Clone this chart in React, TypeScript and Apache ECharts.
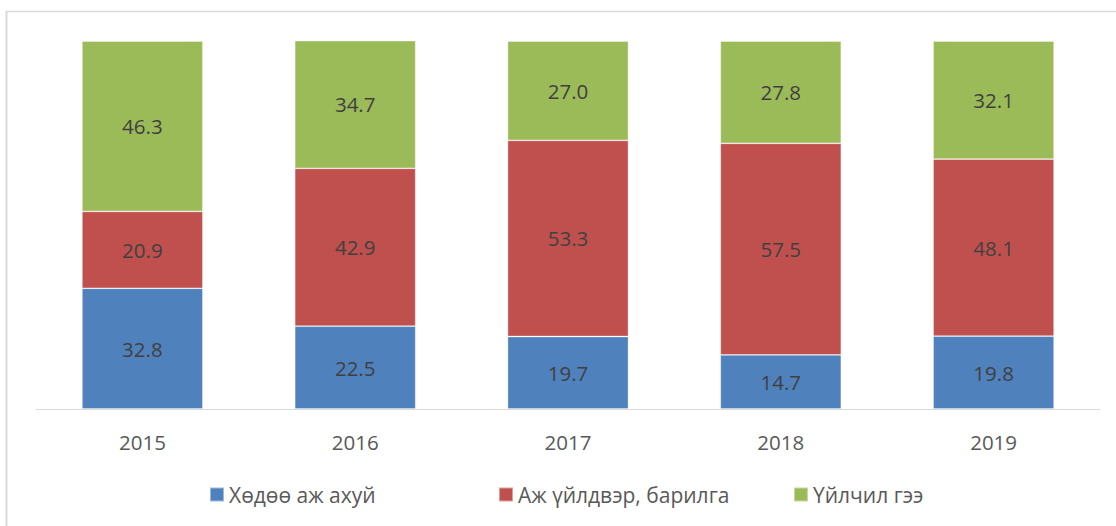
import React, { useEffect, useRef } from "react";
import * as echarts from "echarts";

const years = ["2015", "2016", "2017", "2018", "2019"];
const seriesNames = ["Хөдөө аж ахуй", "Аж үйлдвэр, барилга", "Үйлчил гээ"];
const agriculture = [32.8, 22.5, 19.7, 14.7, 19.8];
const industry = [20.9, 42.9, 53.3, 57.5, 48.1];
const services = [46.3, 34.7, 27.0, 27.8, 32.1];
const colors = ["#4F81BD", "#C0504D", "#9BBB59"];

const FONT = "'Open Sans', 'Noto Sans', sans-serif";

export default function App() {
  const ref = useRef<HTMLDivElement>(null);
  useEffect(() => {
    if (!ref.current) return;
    const chart = echarts.init(ref.current, null, { renderer: "svg" });
    const data = [agriculture, industry, services];
    const legendLefts = [209, 498, 793];
    chart.setOption({
      animation: false,
      backgroundColor: "#ffffff",
      textStyle: { fontFamily: FONT },
      grid: { left: 36, right: 16, top: 41, bottom: 117, containLabel: false },
      xAxis: {
        type: "category",
        data: years,
        axisLine: { lineStyle: { color: "#d9d9d9", width: 1 } },
        axisTick: { show: false },
        axisLabel: { color: "#595959", fontSize: 20.5, margin: 22, fontFamily: FONT },
      },
      yAxis: {
        type: "value",
        min: 0,
        max: 100,
        show: false,
        splitLine: { show: false },
      },
      legend: legendLefts.map((l, i) => ({
        data: [seriesNames[i]],
        left: l,
        top: 484,
        icon: "rect",
        itemWidth: 14,
        itemHeight: 14,
        itemGap: 6,
        textStyle: { color: "#595959", fontSize: 21, fontFamily: FONT, padding: [0, 0, 0, 0] },
        padding: 0,
      })),
      graphic: [
        { type: "line", shape: { x1: 6.5, y1: 11, x2: 6.5, y2: 526 }, style: { stroke: "#d9d9d9", lineWidth: 2 } },
        { type: "line", shape: { x1: 6, y1: 11.5, x2: 1116, y2: 11.5 }, style: { stroke: "#d9d9d9", lineWidth: 1.5 } },
      ],
      series: data.map((d, i) => ({
        name: seriesNames[i],
        type: "bar",
        stack: "total",
        barWidth: 121,
        data: d,
        itemStyle: { color: colors[i], borderColor: "rgba(255,255,255,0.45)", borderWidth: 0.8 },
        label: {
          show: true,
          position: "inside",
          color: "#404040",
          fontSize: 20.5,
          fontFamily: FONT,
          formatter: (p: any) => Number(p.value).toFixed(1),
        },
      })),
    });
    return () => chart.dispose();
  }, []);
  return (
    <div
      ref={ref}
      style={{ position: "fixed", left: 0, top: 0, width: 1116, height: 526, background: "#fff" }}
    />
  );
}
